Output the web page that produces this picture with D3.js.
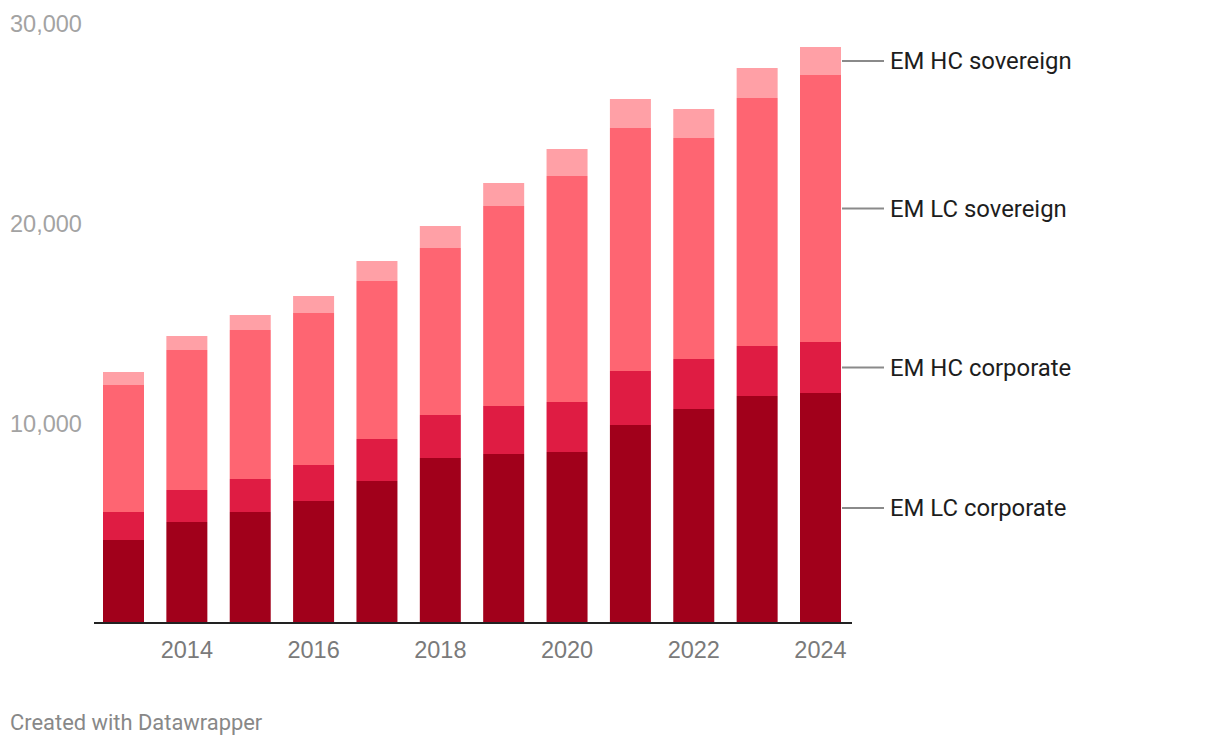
<!DOCTYPE html>
<html>
<head>
<meta charset="utf-8" />
<title>EM debt</title>
<script src="https://d3js.org/d3.v7.min.js"></script>
<style>
  body { margin: 0; background: #fff; font-family: Roboto, "Noto Sans", sans-serif; }
  .axis--y text { fill: #a3a3a3; font-size: 23.5px; }
  .axis--x text { fill: #7a7a7a; font-size: 23.5px; }
  .label { fill: #1d1d1d; font-size: 23.9px; }
  .footer { fill: #888; font-size: 21.9px; }
</style>
</head>
<body>
<svg width="1220" height="746"></svg>
<script>

    var years = [2013, 2014, 2015, 2016, 2017, 2018, 2019, 2020, 2021, 2022, 2023, 2024];
    var seriesNames = ["EM LC corporate", "EM HC corporate", "EM LC sovereign", "EM HC sovereign"];

    var lcCorporate = [4150, 5050, 5550, 6100, 7100, 8250, 8450, 8550, 9900, 10700, 11350, 11500];
    var hcCorporate = [1400, 1600, 1650, 1800, 2100, 2150, 2400, 2500, 2700, 2500, 2500, 2550];
    var lcSovereign = [6350, 7000, 7450, 7600, 7900, 8350, 10000, 11300, 12150, 11050, 12400, 13350];
    var hcSovereign = [650, 700, 750, 850, 1000, 1100, 1150, 1350, 1450, 1450, 1500, 1400];

    var yTicks = [10000, 20000, 30000];
    var xTicks = [2014, 2016, 2018, 2020, 2022, 2024];

    var colors = ["#a1001b", "#df1c43", "#fe6572", "#ffa0a6"];

    var table = years.map(function (yr, i) {
        return {
            year: yr,
            "EM LC corporate": lcCorporate[i],
            "EM HC corporate": hcCorporate[i],
            "EM LC sovereign": lcSovereign[i],
            "EM HC sovereign": hcSovereign[i]
        };
    });

    var svg = d3.select("svg");

    var x = d3.scaleBand()
        .domain(years)
        .range([103, 841])
        .paddingInner(0.353)
        .paddingOuter(0);

    var y = d3.scaleLinear()
        .domain([0, 30000])
        .range([623, 23]);

    var stack = d3.stack().keys(seriesNames);
    var layers = stack(table);

    var g = svg.append("g");

    g.selectAll(".layer")
        .data(layers)
        .enter().append("g")
        .attr("class", "layer")
        .attr("fill", function (d, i) { return colors[i]; })
        .selectAll("rect")
        .data(function (d) { return d; })
        .enter().append("rect")
        .attr("x", function (d) { return x(d.data.year); })
        .attr("width", x.bandwidth())
        .attr("y", function (d) { return y(d[1]); })
        .attr("height", function (d) { return y(d[0]) - y(d[1]); });

    // y labels, left aligned, no grid
    var yAxis = svg.append("g")
        .attr("class", "axis axis--y")
        .attr("transform", "translate(10,0)")
        .call(d3.axisRight(y).tickValues(yTicks).tickFormat(d3.format(",")).tickSize(0).tickPadding(0));
    yAxis.select(".domain").remove();
    yAxis.selectAll("text").attr("dy", "0.35em");

    // baseline
    svg.append("line")
        .attr("x1", 94).attr("x2", 852)
        .attr("y1", y(0)).attr("y2", y(0))
        .attr("stroke", "#222")
        .attr("stroke-width", 2);

    var xAxis = svg.append("g")
        .attr("class", "axis axis--x")
        .attr("transform", "translate(0," + (y(0) + 27) + ")")
        .call(d3.axisBottom(x).tickValues(xTicks).tickSize(0).tickPadding(0));
    xAxis.select(".domain").remove();
    xAxis.selectAll("text").attr("dy", "0.35em");

    // direct labels next to last bar
    var lastIdx = years.length - 1;
    var lastX = x(years[lastIdx]) + x.bandwidth();
    var labels = svg.append("g");
    layers.forEach(function (layer) {
        var d = layer[lastIdx];
        var mid = y((d[0] + d[1]) / 2);
        labels.append("line")
            .attr("x1", lastX + 1).attr("x2", lastX + 43)
            .attr("y1", mid).attr("y2", mid)
            .attr("stroke", "#8a8a8a")
            .attr("stroke-width", 2);
        labels.append("text")
            .attr("class", "label")
            .attr("x", lastX + 49)
            .attr("y", mid)
            .attr("dy", "0.35em")
            .text(layer.key);
    });

    svg.append("text")
        .attr("class", "footer")
        .attr("x", 10)
        .attr("y", 722)
        .attr("dy", "0.35em")
        .text("Created with Datawrapper");

</script>
</body>
</html>
